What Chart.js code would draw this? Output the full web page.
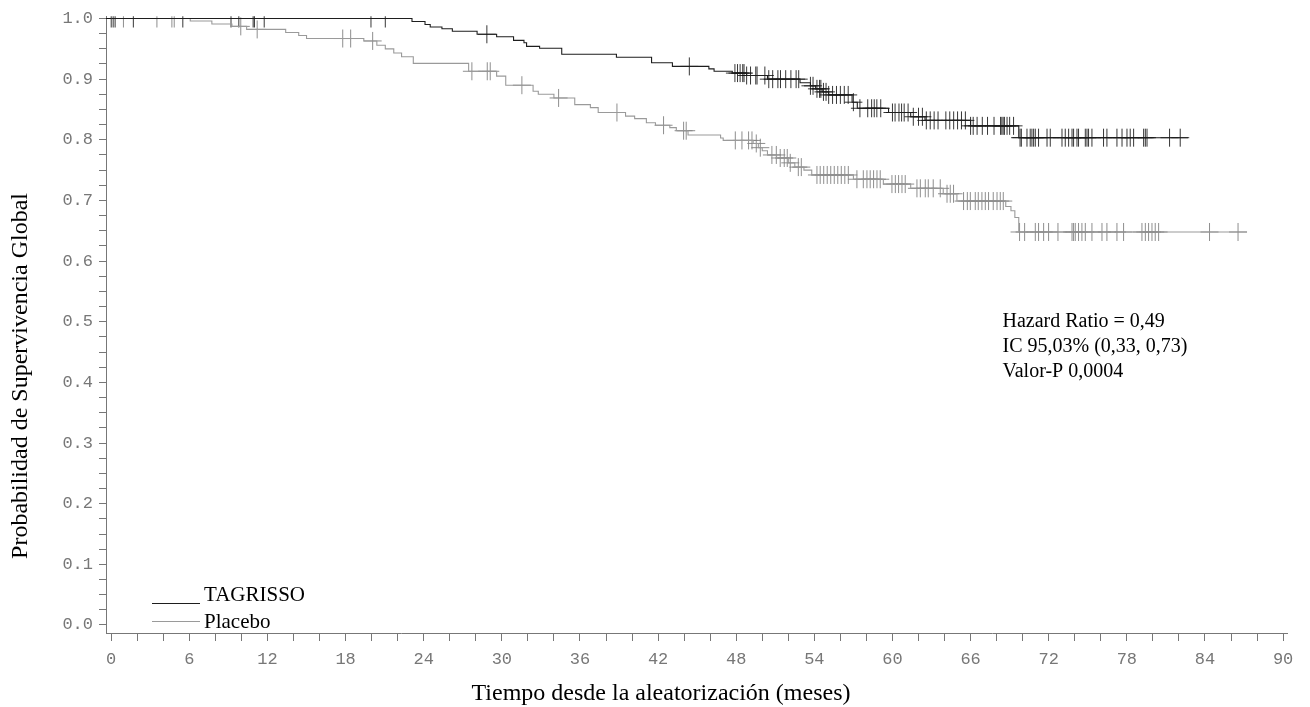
<!doctype html>
<html lang="es">
  <head>
    <meta charset="utf-8">
    <title>Supervivencia Global</title>
    <script src="https://cdn.jsdelivr.net/npm/chart.js"></script>
    <style>
      html, body { margin: 0; padding: 0; background: #fff; }
    </style>
  </head>
  <body>
    <canvas id="km" width="1310" height="707"></canvas>

   <script>
    //---------------------------- data ----------------------------
    // event times (meses) and survival right after each event
    const tagTimes = [23.1, 24.1, 24.5, 25.4, 26.2, 28.1, 29.6, 30.9, 31.7, 31.9, 32.9, 34.6, 38.8, 41.5, 43.1,
      45.9, 46.3, 47.7, 48.8, 50.4, 52.9, 53.7, 54.1, 54.6, 55.1, 56.9, 57.3, 59.7, 61.4, 62.5, 66.0, 69.7];
    const tagSurv = [0.995, 0.990, 0.986, 0.983, 0.979, 0.974, 0.970, 0.964, 0.960, 0.954, 0.951, 0.941, 0.936, 0.927, 0.921,
      0.917, 0.913, 0.910, 0.906, 0.900, 0.894, 0.889, 0.884, 0.879, 0.874, 0.862, 0.852, 0.845, 0.838, 0.832, 0.823, 0.8035];
    const tagCensor = [0.0, 0.15, 0.3, 1.7, 5.5, 9.2, 9.8, 10.9, 11.0, 11.75, 19.95, 21.05, 28.85, 44.4,
      47.9, 48.1, 48.3, 48.5, 48.6, 48.8, 49.1, 49.5, 49.6,
      50.2, 50.5, 50.8, 51.2, 51.4, 51.8, 52.2, 52.6, 52.8,
      53.7, 53.9, 54.2, 54.4, 54.5, 54.7, 54.9, 55.1, 55.4, 55.7, 56.0, 56.3, 56.6,
      57.0, 57.5, 58.1, 58.4, 58.6, 58.8, 59.1, 60.0, 60.2, 60.5, 60.7, 60.9, 61.2, 61.6,
      62.0, 62.3, 62.6, 62.9, 63.2, 63.5, 64.1, 64.4, 64.7, 65.0, 65.3, 65.6,
      66.0, 66.2, 66.5, 66.9, 67.3, 67.8, 68.3, 68.4, 68.5, 68.6, 68.8, 69.0, 69.3, 69.8, 69.9,
      70.33, 70.58, 70.71, 70.84, 70.97, 71.22, 71.87, 72.12, 73.02, 73.27, 73.53, 73.79, 73.91, 74.17, 74.29,
      74.81, 74.94, 75.06, 75.32, 76.21, 76.47, 77.24, 77.63, 78.01, 78.26, 78.52, 79.29, 79.42, 79.55, 81.28, 82.1];
    const tagEnd = 82.7;

    const plaTimes = [6.07, 7.73, 9.27, 10.4, 13.4, 14.4, 15.0, 19.4, 20.4, 21.05, 21.7, 22.3, 23.2, 27.45, 29.6, 30.3,
      32.4, 32.8, 34.0, 35.6, 36.8, 37.4, 39.5, 40.2, 41.1, 41.8, 42.9, 43.4, 44.3, 46.8, 47.0, 49.3, 49.7, 50.0, 50.4,
      51.1, 52.0, 52.5, 53.2, 53.8, 57.0, 59.3, 61.4, 63.9, 64.95, 68.7, 69.1, 69.4, 69.7];
    const plaSurv = [0.996, 0.991, 0.987, 0.982, 0.977, 0.972, 0.967, 0.963, 0.956, 0.950, 0.943, 0.937, 0.926, 0.913, 0.905, 0.890,
      0.880, 0.875, 0.869, 0.858, 0.853, 0.845, 0.839, 0.835, 0.828, 0.824, 0.820, 0.815, 0.808, 0.803, 0.799, 0.794, 0.787, 0.782, 0.775,
      0.770, 0.762, 0.755, 0.750, 0.742, 0.735, 0.727, 0.720, 0.711, 0.699, 0.690, 0.683, 0.672, 0.648];
    const plaCensor = [0.94, 3.51, 4.66, 4.84, 9.95, 11.21, 17.78, 18.39, 20.08, 27.70, 28.88, 29.11, 31.54, 34.36, 38.84, 42.42,
      43.96, 44.16, 47.93, 48.44, 48.95, 49.21, 49.54, 49.85, 50.74, 51.08, 51.38, 51.69, 51.92, 52.15, 52.77, 53.0,
      54.2, 54.45, 54.72, 54.99, 55.26, 55.53, 55.80, 56.07, 56.34, 56.61, 57.27, 57.76, 58.04, 58.29, 58.55, 58.81, 59.06,
      59.96, 60.22, 60.47, 60.73, 60.98, 61.88, 62.14, 62.52, 62.75, 63.13, 63.67, 64.19, 64.44, 64.69,
      65.46, 65.75, 65.98, 66.36, 66.59, 66.87, 67.13, 67.38, 67.74, 68.03, 68.28, 68.51,
      69.76, 70.15, 70.97, 71.22, 71.61, 71.99, 72.71, 73.79, 73.91, 74.04, 74.29, 74.55, 74.81, 75.32, 76.09, 76.47,
      77.24, 77.75, 79.16, 79.42, 79.67, 79.93, 80.18, 80.44, 84.35, 86.54];
    const plaEnd = 87.23;

    const xLabels = [0, 6, 12, 18, 24, 30, 36, 42, 48, 54, 60, 66, 72, 78, 84, 90];
    const yLabels = [0.0, 0.1, 0.2, 0.3, 0.4, 0.5, 0.6, 0.7, 0.8, 0.9, 1.0];
    const seriesNames = ['TAGRISSO', 'Placebo'];
    const statsText = ['Hazard Ratio = 0,49', 'IC 95,03% (0,33, 0,73)', 'Valor-P 0,0004'];
    const xTitle = 'Tiempo desde la aleatorización (meses)';
    const yTitle = 'Probabilidad de Supervivencia Global';

    const darkCol = '#1e1e1e';
    const lightCol = '#9a9a9a';

    //---------------------------- helpers ----------------------------
    function stepData(times, surv, end) {
      const pts = [{x: 0, y: 1}];
      times.forEach((t, i) => pts.push({x: t, y: surv[i]}));
      pts.push({x: end, y: surv[surv.length - 1]});
      return pts;
    }
    function survAt(times, surv, t) {
      let s = 1;
      for (let i = 0; i < times.length; i++) { if (times[i] <= t) s = surv[i]; }
      return s;
    }
    function censorData(times, surv, cens) {
      return cens.map(t => ({x: t, y: survAt(times, surv, t)}));
    }

    //---------------------------- overlay text ----------------------------
    const overlay = {
      id: 'overlay',
      afterDraw(chart) {
        const ctx = chart.ctx;
        const xs = chart.scales.x, ys = chart.scales.y;
        ctx.save();
        ctx.fillStyle = '#000';

        // axis titles
        ctx.font = '24px "Liberation Serif"';
        ctx.textAlign = 'center';
        ctx.textBaseline = 'alphabetic';
        ctx.fillText(xTitle, 661, 700);
        ctx.save();
        ctx.translate(27, 376);
        ctx.rotate(-Math.PI / 2);
        ctx.fillText(yTitle, 0, 0);
        ctx.restore();

        // stats box
        ctx.font = '20px "Liberation Serif"';
        ctx.textAlign = 'left';
        ctx.textBaseline = 'middle';
        const sx = xs.getPixelForValue(68.45);
        const sy = ys.getPixelForValue(0.5);
        statsText.forEach((s, i) => ctx.fillText(s, sx, sy + i * 25));

        // legend
        ctx.font = '21px "Liberation Serif"';
        ctx.textBaseline = 'alphabetic';
        ctx.lineWidth = 1;
        ctx.strokeStyle = darkCol;
        ctx.beginPath(); ctx.moveTo(152, 603.5); ctx.lineTo(200, 603.5); ctx.stroke();
        ctx.strokeStyle = lightCol;
        ctx.beginPath(); ctx.moveTo(152, 621.5); ctx.lineTo(200, 621.5); ctx.stroke();
        ctx.fillText(seriesNames[0], 204, 601);
        ctx.fillText(seriesNames[1], 204, 628);
        ctx.restore();
      }
    };

    //---------------------------- chart ----------------------------
    const tickFont = {family: '"Liberation Mono", monospace', size: 17};

    new Chart(document.getElementById('km'), {
      type: 'scatter',
      data: {
        datasets: [
          {
            label: seriesNames[0],
            data: stepData(tagTimes, tagSurv, tagEnd),
            showLine: true, stepped: 'before',
            borderColor: darkCol, borderWidth: 1.1, pointRadius: 0
          },
          {
            label: seriesNames[1],
            data: stepData(plaTimes, plaSurv, plaEnd),
            showLine: true, stepped: 'before',
            borderColor: lightCol, borderWidth: 1.1, pointRadius: 0
          },
          {
            label: seriesNames[0] + ' censurado',
            data: censorData(tagTimes, tagSurv, tagCensor),
            showLine: false, pointStyle: 'cross', pointRadius: 9,
            borderColor: 'rgba(20,20,20,0.85)', borderWidth: 1
          },
          {
            label: seriesNames[1] + ' censurado',
            data: censorData(plaTimes, plaSurv, plaCensor),
            showLine: false, pointStyle: 'cross', pointRadius: 9,
            borderColor: 'rgba(130,130,130,0.9)', borderWidth: 1
          }
        ]
      },
      options: {
        responsive: false,
        animation: false,
        events: [],
        layout: {padding: {top: 15, right: 23, bottom: 0, left: 0}},
        plugins: {legend: {display: false}, tooltip: {enabled: false}},
        scales: {
          x: {
            type: 'linear', min: -0.4, max: 90.3,
            afterBuildTicks: s => {
              const t = [];
              for (let v = 0; v <= 90; v += 2) t.push({value: v});
              s.ticks = t;
            },
            afterFit: s => { s.height = 74; },
            ticks: {
              autoSkip: false, maxRotation: 0, padding: 8, color: '#777', font: tickFont,
              callback: v => xLabels.includes(v) ? String(v) : ''
            },
            grid: {drawOnChartArea: false, tickLength: 8, color: '#777'},
            border: {color: '#777'}
          },
          y: {
            type: 'linear', min: -0.0132, max: 1.0038,
            afterBuildTicks: s => {
              const t = [];
              for (let k = 0; k <= 40; k++) t.push({value: k / 40});
              s.ticks = t;
            },
            afterFit: s => { s.width = 106; },
            ticks: {
              autoSkip: false, padding: 6, color: '#777', font: tickFont,
              callback: v => {
                const k = Math.round(v * 40);
                return (k % 4 === 0 && yLabels.includes(k / 40)) ? (k / 40).toFixed(1) : '';
              }
            },
            grid: {drawOnChartArea: false, tickLength: 7, color: '#777'},
            border: {color: '#777'}
          }
        }
      },
      plugins: [overlay]
    });
   </script>

  </body>
</html>
